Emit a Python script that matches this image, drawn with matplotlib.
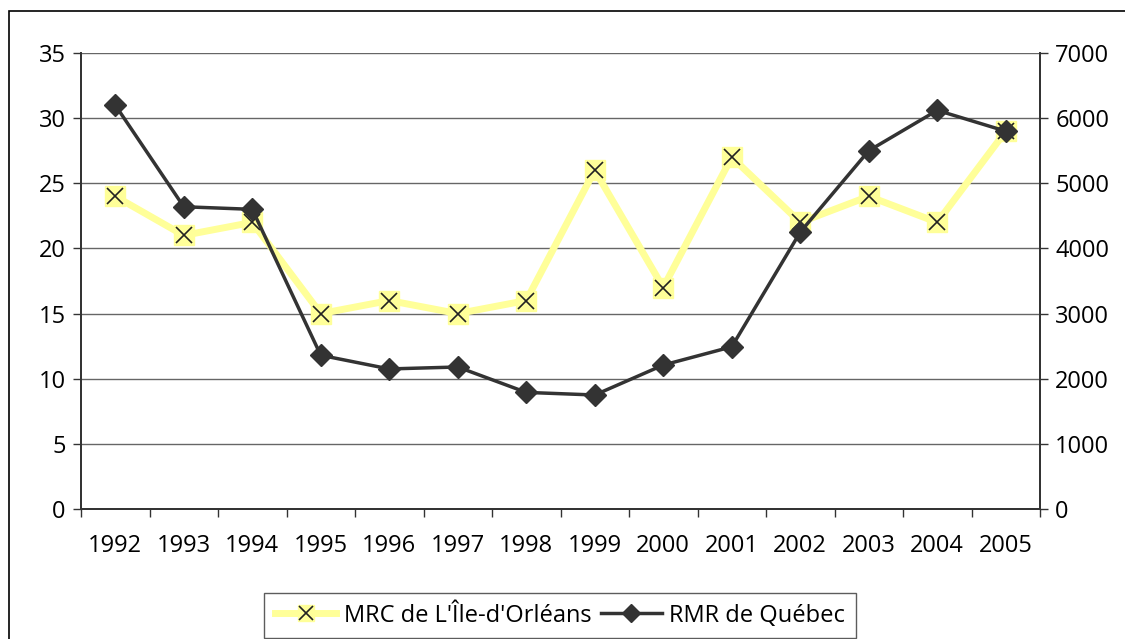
import matplotlib
matplotlib.use("Agg")
import matplotlib.pyplot as plt
from matplotlib.lines import Line2D
from matplotlib.patches import Rectangle
import numpy as np

# data
years = ["1992", "1993", "1994", "1995", "1996", "1997", "1998",
         "1999", "2000", "2001", "2002", "2003", "2004", "2005"]
mrc_orleans = [24, 21, 22, 15, 16, 15, 16, 26, 17, 27, 22, 24, 22, 29]
rmr_quebec = [6200, 4640, 4600, 2360, 2150, 2180, 1790,
              1750, 2210, 2490, 4250, 5500, 6120, 5800]

left_ticks = [0, 5, 10, 15, 20, 25, 30, 35]
right_ticks = [0, 1000, 2000, 3000, 4000, 5000, 6000, 7000]

plt.rcParams["font.family"] = ["Open Sans", "DejaVu Sans"]
FS = 17
YELLOW = "#ffff99"
DARK = "#333333"

fig = plt.figure(figsize=(11.25, 6.39), dpi=100)
# outer chart border (right and bottom edges fall outside the image)
fig.patches.append(Rectangle((9 / 1125, -0.2), 1.2, 1.2 - 11 / 639,
                             transform=fig.transFigure, fill=False,
                             edgecolor="black", linewidth=1.2))

ax = fig.add_axes([81 / 1125, 1 - 509 / 639, (1040 - 81) / 1125, (509 - 53) / 639])
ax2 = ax.twinx()

x = np.arange(len(years))

# yellow series on the left axis
ax.plot(x, mrc_orleans, color=YELLOW, linewidth=5, zorder=2)
ax.plot(x, mrc_orleans, linestyle="none", marker="s", markersize=14.5,
        markerfacecolor=YELLOW, markeredgecolor=YELLOW, zorder=3)
ax.plot(x, mrc_orleans, linestyle="none", marker="x", markersize=11,
        markeredgecolor="#222222", markeredgewidth=1.2, zorder=4)

# dark series on the right axis
ax2.plot(x, rmr_quebec, color=DARK, linewidth=2.5, marker="D",
         markersize=11, markerfacecolor=DARK, markeredgecolor=DARK)

ax.set_xlim(-0.5, len(years) - 0.5)
ax.set_ylim(0, 35)
ax2.set_ylim(0, 7000)
ax.set_yticks(left_ticks)
ax2.set_yticks(right_ticks)

ax.set_xticks(x)
ax.set_xticklabels(years)
ax.set_xticks(np.arange(len(years) + 1) - 0.5, minor=True)
ax.tick_params(axis="x", which="major", length=0, pad=18, labelsize=FS)
ax.tick_params(axis="x", which="minor", length=6, width=1, color=DARK,
               direction="out")
ax.tick_params(axis="y", length=6, width=1, color=DARK, labelsize=FS, pad=5)
ax2.tick_params(axis="y", length=6, width=1, color=DARK, labelsize=FS, pad=5)

ax.grid(axis="y", color="#666666", linewidth=1)
ax.set_axisbelow(True)

for a in (ax, ax2):
    a.spines["top"].set_visible(False)
    for s in ("left", "right", "bottom"):
        a.spines[s].set_color(DARK)
        a.spines[s].set_linewidth(1.3)
ax.patch.set_visible(False)

h1 = (Line2D([], [], color=YELLOW, linewidth=5),
      Line2D([], [], linestyle="none", marker="s", markersize=12,
             markerfacecolor=YELLOW, markeredgecolor=YELLOW),
      Line2D([], [], linestyle="none", marker="x", markersize=10,
             markeredgecolor="#222222", markeredgewidth=1.2))
h2 = Line2D([], [], color=DARK, linewidth=2.5, marker="D", markersize=9,
            markerfacecolor=DARK, markeredgecolor=DARK)

leg = fig.legend([h1, h2], ["MRC de L'Île-d'Orléans", "RMR de Québec"],
                 loc="upper center", bbox_to_anchor=(560 / 1125, 1 - 593 / 639),
                 ncol=2, fontsize=FS, frameon=True, fancybox=False,
                 handlelength=2.6, handletextpad=0.3, columnspacing=0.4,
                 borderpad=0.45, borderaxespad=0)
leg.get_frame().set_edgecolor(DARK)
leg.get_frame().set_linewidth(1)

fig.savefig("out.png", dpi=100)
